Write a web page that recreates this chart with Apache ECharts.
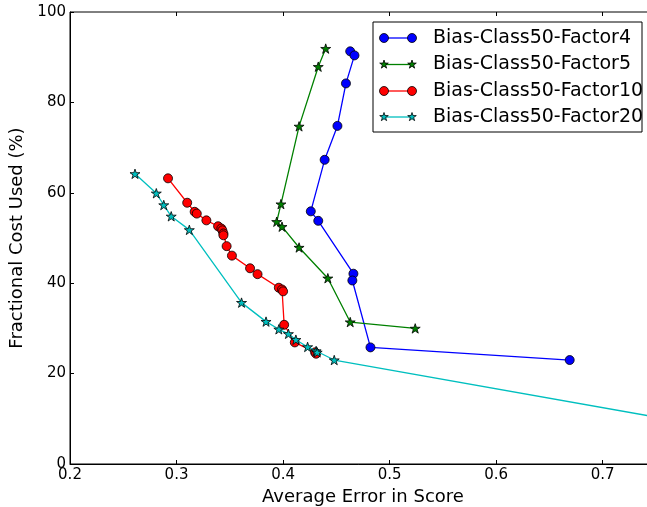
<!DOCTYPE html>
<html>
<head>
<meta charset="utf-8">
<script src="https://cdn.jsdelivr.net/npm/echarts@6/dist/echarts.min.js"></script>
<style>
  html, body { margin: 0; padding: 0; background: #fff; }
  #chart { width: 647px; height: 507px; }
</style>
</head>
<body>
<div id="chart"></div>
<script>
// Average error vs. fractional cost for each bias factor
const seriesNames = [
  'Bias-Class50-Factor4',
  'Bias-Class50-Factor5',
  'Bias-Class50-Factor10',
  'Bias-Class50-Factor20'
];

const factor4X = [0.463, 0.467, 0.459, 0.451, 0.439, 0.426, 0.433, 0.466, 0.465, 0.482, 0.669];
const factor4Y = [91.3, 90.4, 84.2, 74.8, 67.3, 55.9, 53.8, 42.1, 40.6, 25.8, 23.0];

const factor5X = [0.440, 0.433, 0.415, 0.398, 0.394, 0.399, 0.415, 0.442, 0.463, 0.524];
const factor5Y = [91.9, 87.9, 74.7, 57.5, 53.6, 52.5, 47.9, 41.1, 31.4, 30.0];

const factor10X = [0.292, 0.310, 0.317, 0.319, 0.328, 0.339, 0.342, 0.343, 0.344, 0.344,
                   0.347, 0.352, 0.369, 0.376, 0.396, 0.399, 0.400, 0.401, 0.411, 0.430, 0.431];
const factor10Y = [63.2, 57.8, 55.8, 55.4, 53.9, 52.6, 52.1, 51.7, 51.0, 50.6,
                   48.2, 46.1, 43.3, 42.0, 39.0, 38.6, 38.2, 30.8, 26.9, 24.7, 24.4];

const factor20X = [0.261, 0.281, 0.288, 0.295, 0.312, 0.361, 0.384, 0.396, 0.405, 0.412,
                   0.423, 0.431, 0.432, 0.448, 0.900];
const factor20Y = [64.2, 59.9, 57.3, 54.8, 51.8, 35.7, 31.5, 29.8, 28.8, 27.5,
                   25.9, 25.0, 24.7, 23.0, 4.1];

const xTicks = [0.2, 0.3, 0.4, 0.5, 0.6, 0.7];
const yTicks = [0, 20, 40, 60, 80, 100];

const colors = ['#0000ff', '#008000', '#ff0000', '#00bfbf'];
// five-pointed star outline on a 100x100 box
const starPts = [[50,0],[61.2,34.5],[97.6,34.5],[68.2,55.9],[79.4,90.5],[50,69.1],[20.6,90.5],[31.8,55.9],[2.4,34.5],[38.8,34.5]];
const STAR = 'path://M' + starPts.map(p => p[0] + ',' + p[1]).join(' L') + ' Z';
const symbols = ['circle', STAR, 'circle', STAR];
const symbolSizes = [9, 10, 9, 10];

const xs = [factor4X, factor5X, factor10X, factor20X];
const ys = [factor4Y, factor5Y, factor10Y, factor20Y];

const FONT = 'DejaVu Sans';

const series = seriesNames.map((name, i) => ({
  name: name,
  type: 'line',
  xAxisIndex: 0,
  yAxisIndex: 0,
  data: xs[i].map((x, k) => [x, ys[i][k]]),
  symbol: symbols[i],
  symbolSize: symbolSizes[i],
  symbolKeepAspect: true,
  clip: true,
  lineStyle: { color: colors[i], width: 1.3 },
  itemStyle: { color: colors[i], borderColor: '#000', borderWidth: 0.8 },
  emphasis: { disabled: true },
  animation: false,
  z: 2 + i
}));

// Legend panel with line-and-marker samples
const legendLeft = 373, legendTop = 22, legendW = 269, legendH = 110;
const rowY = [38, 64.5, 91, 117];
const legendChildren = [{
  type: 'rect',
  shape: { x: legendLeft, y: legendTop, width: legendW, height: legendH },
  style: { fill: '#fff', stroke: '#000', lineWidth: 1 }
}];
seriesNames.forEach((name, i) => {
  const y = rowY[i];
  legendChildren.push({
    type: 'line',
    shape: { x1: 384, y1: y, x2: 412, y2: y },
    style: { stroke: colors[i], lineWidth: 1.3 }
  });
  [384, 412].forEach(cx => {
    if (symbols[i] === 'circle') {
      legendChildren.push({
        type: 'circle',
        shape: { cx: cx, cy: y, r: 4.5 },
        style: { fill: colors[i], stroke: '#000', lineWidth: 0.8 }
      });
    } else {
      const s = 9 / 100;
      legendChildren.push({
        type: 'polygon',
        shape: { points: starPts.map(p => [cx - 4.5 + p[0] * s, y - 4.5 + p[1] * s]) },
        style: { fill: colors[i], stroke: '#000', lineWidth: 0.8 }
      });
    }
  });
  legendChildren.push({
    type: 'text',
    style: {
      text: name, x: 433, y: y, fill: '#000',
      fontFamily: FONT, fontSize: 19,
      verticalAlign: 'middle', align: 'left'
    }
  });
});

const chart = echarts.init(document.getElementById('chart'), null, { renderer: 'canvas' });
chart.setOption({
  animation: false,
  backgroundColor: '#fff',
  grid: {
    left: 70, right: -9, top: 12, bottom: 43,
    outerBoundsMode: 'none',
    show: true, borderColor: '#000', borderWidth: 1, containLabel: false
  },
  xAxis: [{
    type: 'value', min: 0.2, max: 0.75, interval: 0.1,
    name: 'Average Error in Score', nameLocation: 'middle', nameGap: 20,
    nameTextStyle: { fontFamily: FONT, fontSize: 18, color: '#000' },
    axisLine: { show: true, lineStyle: { color: '#000', width: 1 } },
    axisTick: { show: true, inside: true, length: 4, lineStyle: { color: '#000' } },
    axisLabel: {
      fontFamily: FONT, fontSize: 15, color: '#000', margin: 4, showMaxLabel: false,
      formatter: v => xTicks.some(t => Math.abs(t - v) < 1e-6) ? v.toFixed(1) : ''
    },
    splitLine: { show: false }
  }, {
    type: 'value', min: 0.2, max: 0.75, interval: 0.1, position: 'top',
    axisLine: { show: false },
    axisTick: { show: true, inside: true, length: 4, lineStyle: { color: '#000' } },
    axisLabel: { show: false },
    splitLine: { show: false }
  }],
  yAxis: [{
    type: 'value', min: 0, max: 100, interval: 20,
    name: 'Fractional Cost Used (%)', nameLocation: 'middle', nameGap: 30,
    nameTextStyle: { fontFamily: FONT, fontSize: 18, color: '#000' },
    axisLine: { show: true, lineStyle: { color: '#000', width: 1 } },
    axisTick: { show: true, inside: true, length: 4, lineStyle: { color: '#000' } },
    axisLabel: {
      fontFamily: FONT, fontSize: 15, color: '#000', margin: 4,
      formatter: v => yTicks.includes(v) ? String(v) : ''
    },
    splitLine: { show: false }
  }],
  series: series,
  graphic: [{ type: 'group', z: 100, children: legendChildren }]
});
</script>
</body>
</html>
